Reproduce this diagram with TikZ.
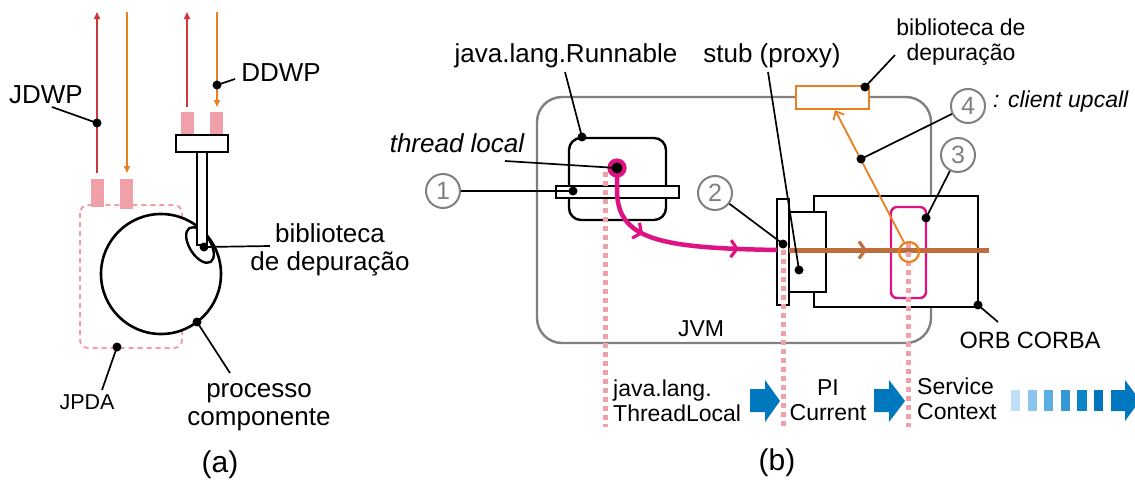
\documentclass[tikz,border=0pt]{standalone}
\usepackage{fontspec}
\setmainfont{Liberation Sans}
\usetikzlibrary{arrows.meta,decorations.markings}
\definecolor{pinkfill}{RGB}{240,160,168}
\definecolor{jred}{RGB}{205,55,60}
\definecolor{jorange}{RGB}{232,128,32}
\definecolor{mag}{RGB}{222,18,130}
\definecolor{brownl}{RGB}{190,110,60}
\definecolor{bblue}{RGB}{0,120,192}
\definecolor{jgray}{RGB}{128,128,128}
\definecolor{bar1}{RGB}{189,224,246}
\definecolor{bar2}{RGB}{140,198,236}
\definecolor{bar3}{RGB}{93,174,224}
\definecolor{bar4}{RGB}{53,152,212}
\definecolor{bar5}{RGB}{13,134,200}
\definecolor{bar6}{RGB}{0,117,188}
\tikzset{
  lbl/.style={inner sep=0pt, font=\fontsize{26}{28}\selectfont, align=center},
  slbl/.style={inner sep=0pt, font=\fontsize{23}{25}\selectfont, align=center},
  dotb/.style={circle, fill=black, inner sep=0pt, minimum size=9pt},
  leader/.style={line width=1.7pt},
  num/.style={circle, draw=jgray, line width=2pt, minimum size=34pt, inner sep=0pt, text=jgray, font=\fontsize{25}{25}\selectfont},
  boxb/.style={draw=black, line width=2.4pt, fill=white},
  pinkdots/.style={draw=pinkfill, line width=5pt, dash pattern=on 4.5pt off 4.5pt},
  redarr/.style={draw=jred, line width=1.6pt, -{Triangle[length=7pt,width=6pt]}},
  orarr/.style={draw=jorange, line width=1.6pt, -{Triangle[length=7pt,width=6pt]}},
  chev/.tip={Straight Barb[length=6pt,width=17pt,line width=3.2pt]},
}
\begin{document}
\begin{tikzpicture}[x=1pt,y=-1pt]
\useasboundingbox (0,0) rectangle (1135,482);
% ================= (a) =================
\draw[draw=pinkfill, line width=2pt, dash pattern=on 5pt off 4pt, rounded corners=8pt] (80,205) rectangle (182,348);
\fill[pinkfill] (91,179) rectangle (104,207);
\fill[pinkfill] (120,179) rectangle (133,209);
\coordinate (r1s) at (97,173); \coordinate (r1e) at (97,12);
\coordinate (o1s) at (127,12); \coordinate (o1e) at (127,173);
\draw[redarr] (r1s) -- (r1e);
\draw[orarr] (o1s) -- (o1e);
\coordinate (r2s) at (187,107); \coordinate (r2e) at (187,12);
\coordinate (o2s) at (217,12); \coordinate (o2e) at (217,107);
\draw[redarr] (r2s) -- (r2e);
\draw[orarr] (o2s) -- (o2e);
\fill[pinkfill] (181,112) rectangle (194,135);
\fill[pinkfill] (210,112) rectangle (223,135);
\draw[boxb] (176,135) rectangle (228,152);
\draw[draw=black, line width=2.6pt, fill=white] (161,274) circle[radius=60];
\draw[draw=black, line width=2.4pt, fill=white, rotate around={-58:(200,245)}] (200,245) ellipse[x radius=20, y radius=10.5];
\draw[boxb] (197,152) rectangle (207,245);
% labels (a)
\node[lbl] (jdwp) at (46,95) {JDWP};
\node[lbl] (ddwp) at (281,73) {DDWP};
\node[inner sep=0pt, font=\fontsize{21.5}{23}\selectfont] (jpda) at (87,402) {JPDA};
\node[lbl] (bib) at (330,250) {biblioteca\\de depuração};
\node[lbl] (proc) at (259,407) {processo\\componente};
\node[inner sep=0pt, font=\fontsize{30}{30}\selectfont] (la) at (220,465) {(a)};
\node[dotb] (djdwp) at (97,123) {};
\node[dotb] (dddwp) at (217,85) {};
\node[dotb] (djpda) at (117,347) {};
\node[dotb] (dproc) at (197,322) {};
\node[dotb] (dbib) at (204,247) {};
\coordinate (ljdwp) at (52,107);
\coordinate (lddwp) at (235,79);
\coordinate (ljpda) at (102,390);
\coordinate (lproc) at (230,373);
\coordinate (lbib) at (270,246);
\draw[leader] (ljdwp) -- (djdwp.center);
\draw[leader] (lddwp) -- (dddwp.center);
\draw[leader] (ljpda) -- (djpda.center);
\draw[leader] (lproc) -- (dproc.center);
\draw[leader] (lbib) -- (dbib.center);
% ================= (b) =================
\draw[draw=jgray, line width=2.4pt, rounded corners=25pt] (537,97) rectangle (931,343);
\node[slbl] (jvm) at (701,329) {JVM};
% orange box
\draw[draw=jorange, line width=2.4pt, fill=white] (796,86) rectangle (869,109);
% runnable
\draw[boxb, rounded corners=12pt] (569,138) rectangle (666,220);
\draw[boxb] (556,186) rectangle (679,198);
% ORB box, stub box, thin bar
\draw[boxb] (814,196) rectangle (978,307);
\draw[boxb] (789,212) rectangle (826,292);
\draw[boxb] (777,199) rectangle (789,305);
\draw[draw=mag, line width=2.4pt, rounded corners=6pt] (891,207) rectangle (926,298);
% brown line
\coordinate (bs) at (789,250); \coordinate (be) at (989,250);
\draw[draw=brownl, line width=5pt, postaction={decorate}, decoration={markings, mark=at position 0.39 with {\arrow[brownl]{chev}}}] (bs) -- (be);
% magenta curve
\coordinate (mbend) at (617,190);
\coordinate (mend) at (777,250);
% pink dotted lines
\coordinate (p1t) at (605,172); \coordinate (p1b) at (605,427);
\coordinate (p2t) at (783,250); \coordinate (p2b) at (783,427);
\coordinate (p3t) at (908,243); \coordinate (p3b) at (908,427);
\draw[pinkdots] (p1t) -- (p1b);
\draw[pinkdots] (p2t) -- (p2b);
\draw[pinkdots] (p3t) -- (p3b);
\node[circle, fill=mag, inner sep=0pt, minimum size=19pt] (mdot) at (617,168) {};
\draw[draw=mag, line width=4.5pt, postaction={decorate}, decoration={markings, mark=at position 0.36 with {\arrow[mag]{chev}}, mark=at position 0.82 with {\arrow[mag]{chev}}}] (mdot.center) -- (mbend) .. controls (617,240) and (660,248) .. (mend);
\node[circle, fill=mag, inner sep=0pt, minimum size=19pt] at (617,168) {};
\node[dotb, minimum size=11pt] (tdot) at (617,168) {};
% orange circle and arrow
\node[circle, draw=jorange, line width=2.2pt, minimum size=20pt, inner sep=0pt] (oc) at (909,252) {};
\coordinate (oarr) at (835,110);
\draw[draw=jorange, line width=1.8pt, -{Straight Barb[length=7pt,width=12pt]}] (oc) -- (oarr);
% numbers
\node[num] (c1) at (443,191) {1};
\node[num] (c2) at (715,193) {2};
\node[num] (c3) at (958,155) {3};
\node[num] (c4) at (968,106) {4};
% dots (b)
\node[dotb] (drun) at (582,137) {};
\node[dotb] (dc1) at (573,191) {};
\node[dotb] (dc2) at (783,244) {};
\node[dotb] (dstub) at (799,270) {};
\node[dotb] (dob) at (865,87) {};
\node[dotb] (dc4) at (861,159) {};
\node[dotb] (dc3) at (926,218) {};
\node[dotb] (dorb) at (978,305) {};
% labels (b)
\node[lbl] (run) at (566,56) {java.lang.Runnable};
\node[lbl] (stub) at (772,56) {stub (proxy)};
\node[lbl, font=\fontsize{26}{28}\selectfont\itshape] (tl) at (457,143.5) {thread local};
\node[slbl] (bibb) at (961,42.5) {biblioteca de\\depuração};
\node[slbl, anchor=west, font=\fontsize{23}{25}\selectfont\itshape] (upc) at (993,102) {: client upcall};
\node[inner sep=0pt, font=\fontsize{23.5}{25}\selectfont] (orb) at (1030,340) {ORB CORBA};
\coordinate (lrun) at (565,72);
\coordinate (ltl) at (505,161);
\coordinate (lstub) at (768,72);
\coordinate (lob) at (895,55);
\coordinate (lorb) at (998,322);
\draw[leader] (lrun) -- (drun.center);
\draw[leader] (ltl) -- (tdot.center);
\draw[leader] (lstub) -- (dstub.center);
\draw[leader] (lob) -- (dob.center);
\draw[leader] (lorb) -- (dorb.center);
\draw[leader] (c1) -- (dc1.center);
\draw[leader] (c2) -- (dc2.center);
\draw[leader] (c3) -- (dc3.center);
\draw[leader] (c4) -- (dc4.center);
% bottom row
\node[slbl, anchor=west, align=left] (tlocal) at (613,401) {java.lang.\\ThreadLocal};
\node[slbl] (picur) at (828,400.5) {PI\\Current};
\node[slbl, anchor=west, align=left] (sctx) at (917,399) {Service\\Context};
\fill[bblue] (750,389) -- (765,389) -- (765,380) -- (780,401) -- (765,422) -- (765,412) -- (750,412) -- cycle;
\fill[bblue] (874,389) -- (889,389) -- (889,380) -- (905,401) -- (889,422) -- (889,412) -- (874,412) -- cycle;
\fill[bar1] (1011,390) rectangle (1020,411);
\fill[bar2] (1028,390) rectangle (1037,411);
\fill[bar3] (1044,390) rectangle (1053,411);
\fill[bar4] (1061,390) rectangle (1070,411);
\fill[bar5] (1077,390) rectangle (1087,411);
\fill[bar6] (1094,390) rectangle (1103,411);
\fill[bblue] (1111,390) -- (1125,390) -- (1125,380) -- (1140,400.5) -- (1125,421) -- (1125,411) -- (1111,411) -- cycle;
\node[inner sep=0pt, font=\fontsize{30}{30}\selectfont] (lb) at (777,463) {(b)};
\end{tikzpicture}
\end{document}
